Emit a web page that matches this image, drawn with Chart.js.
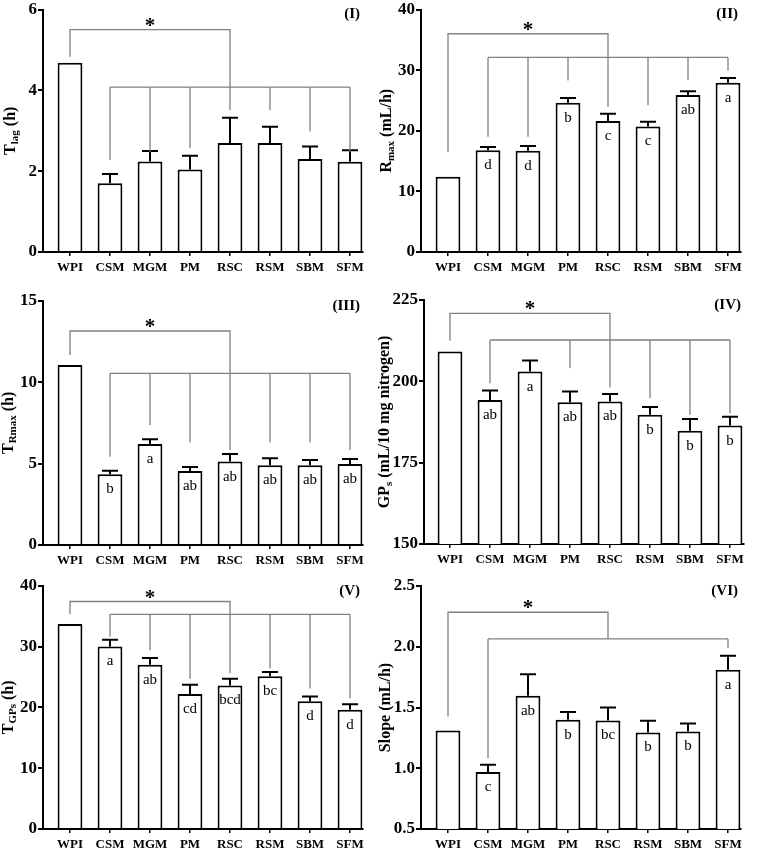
<!DOCTYPE html>
<html>
<head>
<meta charset="utf-8">
<script src="https://cdn.jsdelivr.net/npm/chart.js@4.4.1/dist/chart.umd.min.js"></script>
<style>
  body { margin: 0; background: #fff; width: 758px; height: 849px; overflow: hidden; position: relative; }
  canvas { position: absolute; }
</style>
</head>
<body>
<canvas id="c1" width="378" height="280" style="left:0;top:0"></canvas>
<canvas id="c2" width="380" height="280" style="left:378px;top:0"></canvas>
<canvas id="c3" width="378" height="283" style="left:0;top:290px"></canvas>
<canvas id="c4" width="380" height="282" style="left:378px;top:290px"></canvas>
<canvas id="c5" width="378" height="282" style="left:0;top:575px"></canvas>
<canvas id="c6" width="380" height="282" style="left:378px;top:575px"></canvas>
<script>
const groups = ["WPI", "CSM", "MGM", "PM", "RSC", "RSM", "SBM", "SFM"];

// (I) lag time
const tlagMean = [4.68, 1.70, 2.24, 2.04, 2.70, 2.70, 2.30, 2.23];
const tlagSd = [0, 0.23, 0.26, 0.34, 0.62, 0.40, 0.31, 0.29];
const tlagLetters = ["", "", "", "", "", "", "", ""];
const tlagTips = [4.83, 2.28, 2.48, 2.57, 3.51, 3.51, 2.98, 2.48];
const tlagBrackets = [5.50, 4.08];
const tlagTicks = [0, 2, 4, 6];

// (II) max rate
const rmaxMean = [12.4, 16.8, 16.7, 24.6, 21.6, 20.7, 25.9, 27.9];
const rmaxSd = [0, 0.5, 0.8, 0.8, 1.2, 0.8, 0.6, 0.8];
const rmaxLetters = ["", "d", "d", "b", "c", "c", "ab", "a"];
const rmaxTips = [16.5, 19.0, 19.0, 28.3, 23.9, 24.2, 28.4, 29.9];
const rmaxBrackets = [36.0, 32.1];
const rmaxTicks = [0, 10, 20, 30, 40];

// (III) time of max rate
const trmaxMean = [11.05, 4.34, 6.20, 4.54, 5.12, 4.89, 4.89, 4.97];
const trmaxSd = [0, 0.22, 0.29, 0.25, 0.47, 0.43, 0.33, 0.31];
const trmaxLetters = ["", "b", "a", "ab", "ab", "ab", "ab", "ab"];
const trmaxTips = [11.66, 5.42, 7.37, 6.3, 5.83, 6.3, 6.3, 5.83];
const trmaxBrackets = [13.14, 10.54];
const trmaxTicks = [0, 5, 10, 15];

// (IV) gas production
const gpsMean = [209.2, 194.3, 203.0, 193.6, 193.8, 189.7, 184.8, 186.4];
const gpsSd = [0, 2.9, 3.4, 3.3, 2.3, 2.4, 3.6, 2.7];
const gpsLetters = ["", "ab", "a", "ab", "ab", "b", "b", "b"];
const gpsTips = [212.5, 199.4, null, 204.0, 198.1, 194.8, 189.7, 190.2];
const gpsBrackets = [220.9, 212.7];
const gpsTicks = [150, 175, 200, 225];

// (V) time to GPs
const tgpsMean = [33.7, 30.0, 27.0, 22.2, 23.6, 25.1, 21.0, 19.6];
const tgpsSd = [0, 1.1, 1.1, 1.5, 1.1, 0.7, 0.8, 0.9];
const tgpsLetters = ["", "a", "ab", "cd", "bcd", "bc", "d", "d"];
const tgpsTips = [35.3, 31.6, 29.4, 24.7, 25.6, 26.4, 23.1, 21.5];
const tgpsBrackets = [37.4, 35.3];
const tgpsTicks = [0, 10, 20, 30, 40];

// (VI) slope
const slopeMean = [1.311, 0.969, 1.596, 1.399, 1.393, 1.295, 1.303, 1.810];
const slopeSd = [0, 0.060, 0.178, 0.063, 0.107, 0.095, 0.065, 0.115];
const slopeLetters = ["", "c", "ab", "b", "bc", "b", "b", "a"];
const slopeTips = [1.426, 1.084, null, null, 2.064, null, null, 1.988];
const slopeBrackets = [2.284, 2.064];
const slopeTicks = [0.5, 1.0, 1.5, 2.0, 2.5];

const serif = "'Liberation Serif', 'Times New Roman', serif";

// error bars, letters, comparison brackets, titles
function extras(p) {
  return {
    id: "extras",
    afterDatasetsDraw(chart) {
      const { ctx, chartArea } = chart;
      const x = chart.scales.x, y = chart.scales.y;
      ctx.save();

      // error bars
      ctx.strokeStyle = "#000";
      ctx.lineWidth = 2;
      p.mean.forEach((m, i) => {
        if (!p.sd[i]) return;
        const px = x.getPixelForValue(i);
        const y0 = y.getPixelForValue(m);
        const y1 = y.getPixelForValue(m + p.sd[i]);
        ctx.beginPath();
        ctx.moveTo(px, y0);
        ctx.lineTo(px, y1);
        ctx.moveTo(px - 8, y1);
        ctx.lineTo(px + 8, y1);
        ctx.stroke();
      });

      // letters in bars
      ctx.fillStyle = "#000";
      ctx.font = "15px " + serif;
      ctx.textAlign = "center";
      ctx.textBaseline = "middle";
      p.letters.forEach((t, i) => {
        if (t) ctx.fillText(t, x.getPixelForValue(i), y.getPixelForValue(p.mean[i]) + 15);
      });

      // brackets
      ctx.strokeStyle = "#808080";
      ctx.lineWidth = 1.3;
      const b1 = y.getPixelForValue(p.brackets[0]);
      const b2 = y.getPixelForValue(p.brackets[1]);
      ctx.beginPath();
      ctx.moveTo(x.getPixelForValue(0), y.getPixelForValue(p.tips[0]));
      ctx.lineTo(x.getPixelForValue(0), b1);
      ctx.lineTo(x.getPixelForValue(4), b1);
      ctx.lineTo(x.getPixelForValue(4), y.getPixelForValue(p.tips[4] ?? p.brackets[1]));
      ctx.moveTo(x.getPixelForValue(1), b2);
      ctx.lineTo(x.getPixelForValue(7), b2);
      for (let i = 1; i < 8; i++) {
        if (i === 4 || p.tips[i] == null) continue;
        ctx.moveTo(x.getPixelForValue(i), b2);
        ctx.lineTo(x.getPixelForValue(i), y.getPixelForValue(p.tips[i]));
      }
      ctx.stroke();

      // star
      ctx.font = "bold 21px " + serif;
      ctx.textBaseline = "alphabetic";
      ctx.fillText("*", (x.getPixelForValue(0) + x.getPixelForValue(4)) / 2, b1 + 2);

      // panel label
      ctx.font = "bold 15px " + serif;
      ctx.textAlign = "right";
      ctx.textBaseline = "middle";
      ctx.fillText(p.label, chartArea.right - 3, chartArea.top + 5);

      // y title with subscript
      const big = "bold 16px " + serif, small = "bold 11px " + serif;
      const parts = p.title;
      let total = 0;
      parts.forEach(([t, sub]) => { ctx.font = sub ? small : big; total += ctx.measureText(t).width; });
      ctx.translate(p.titleX, (chartArea.top + chartArea.bottom) / 2);
      ctx.rotate(-Math.PI / 2);
      ctx.textAlign = "left";
      let cx = -total / 2;
      parts.forEach(([t, sub]) => {
        ctx.font = sub ? small : big;
        ctx.fillText(t, cx, sub ? 4 : 0);
        cx += ctx.measureText(t).width;
      });
      ctx.restore();
    }
  };
}

function makeChart(id, p) {
  const step = p.ticks[1] - p.ticks[0];
  return new Chart(document.getElementById(id), {
    type: "bar",
    data: {
      datasets: [{
        data: p.mean.map((v, i) => ({ x: i, y: v })),
        backgroundColor: "#fff",
        borderColor: "#000",
        borderWidth: 2,
        categoryPercentage: 1,
        barPercentage: 0.62
      }]
    },
    options: {
      responsive: false,
      animation: false,
      layout: { padding: { top: p.top, right: p.right, left: 0, bottom: 0 } },
      plugins: { legend: { display: false }, tooltip: { enabled: false } },
      scales: {
        x: {
          type: "linear",
          offset: false,
          min: p.xMin,
          max: p.xMin + 8,
          afterBuildTicks: s => { s.ticks = groups.map((g, i) => ({ value: i })); },
          afterFit: s => { s.height = 28; },
          ticks: {
            callback: v => groups[v],
            font: { family: serif, size: 13, weight: "bold" },
            color: "#000",
            padding: 4,
            maxRotation: 0,
            autoSkip: false
          },
          grid: { offset: false, drawOnChartArea: false, tickLength: 4, color: "#000", lineWidth: 1.5 },
          border: { color: "#000", width: 2 }
        },
        y: {
          min: p.ticks[0],
          max: p.ticks[p.ticks.length - 1],
          afterFit: s => { s.width = p.axisX; },
          ticks: {
            stepSize: step,
            callback: v => step < 1 ? v.toFixed(1) : v,
            font: { family: serif, size: 17, weight: "bold", lineHeight: 1 },
            color: "#000",
            padding: 1
          },
          grid: { drawOnChartArea: false, tickLength: 5, color: "#000", lineWidth: 2 },
          border: { color: "#000", width: 2 }
        }
      }
    },
    plugins: [extras(p)]
  });
}

makeChart("c1", { mean: tlagMean, sd: tlagSd, letters: tlagLetters, tips: tlagTips, brackets: tlagBrackets, ticks: tlagTicks,
  label: "(I)", title: [["T"], ["lag", 1], [" (h)"]], titleX: 11, axisX: 43, top: 9.5, right: 15, xMin: -0.675 });
makeChart("c2", { mean: rmaxMean, sd: rmaxSd, letters: rmaxLetters, tips: rmaxTips, brackets: rmaxBrackets, ticks: rmaxTicks,
  label: "(II)", title: [["R"], ["max", 1], [" (mL/h)"]], titleX: 9, axisX: 43, top: 9.5, right: 17, xMin: -0.675 });
makeChart("c3", { mean: trmaxMean, sd: trmaxSd, letters: trmaxLetters, tips: trmaxTips, brackets: trmaxBrackets, ticks: trmaxTicks,
  label: "(III)", title: [["T"], ["Rmax", 1], [" (h)"]], titleX: 9, axisX: 43, top: 10.7, right: 15, xMin: -0.675 });
makeChart("c4", { mean: gpsMean, sd: gpsSd, letters: gpsLetters, tips: gpsTips, brackets: gpsBrackets, ticks: gpsTicks,
  label: "(IV)", title: [["GP"], ["s", 1], [" (mL/10 mg nitrogen)"]], titleX: 7, axisX: 46, top: 10, right: 14, xMin: -0.65 });
makeChart("c5", { mean: tgpsMean, sd: tgpsSd, letters: tgpsLetters, tips: tgpsTips, brackets: tgpsBrackets, ticks: tgpsTicks,
  label: "(V)", title: [["T"], ["GPs", 1], [" (h)"]], titleX: 9, axisX: 43, top: 10.7, right: 15, xMin: -0.675 });
makeChart("c6", { mean: slopeMean, sd: slopeSd, letters: slopeLetters, tips: slopeTips, brackets: slopeBrackets, ticks: slopeTicks,
  label: "(VI)", title: [["Slope (mL/h)"]], titleX: 8, axisX: 43, top: 11, right: 17, xMin: -0.675 });
</script>
</body>
</html>
